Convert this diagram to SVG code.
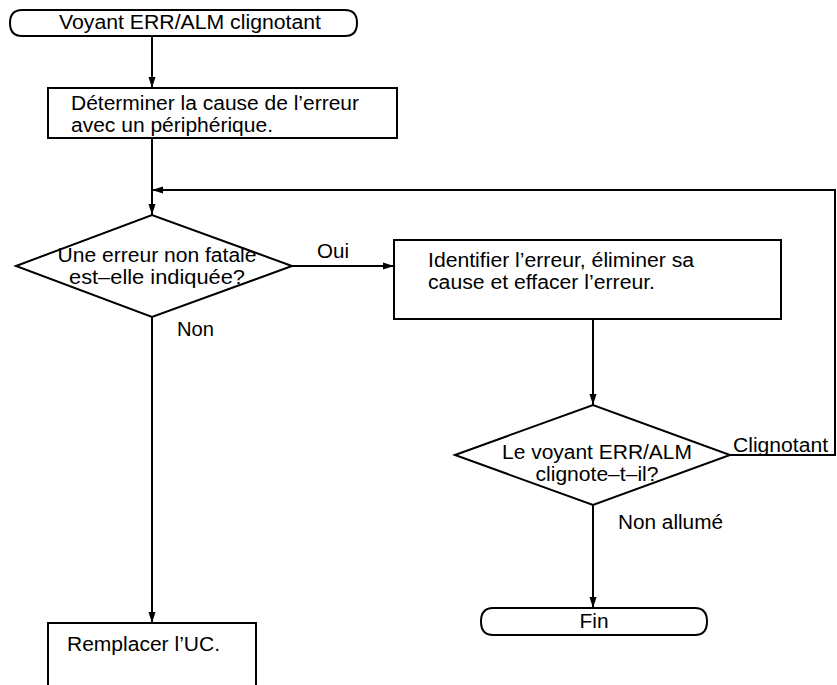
<svg xmlns="http://www.w3.org/2000/svg" width="837" height="685" viewBox="0 0 837 685">
<style>
.shape{fill:#fff;stroke:#000;stroke-width:2}
.line{fill:none;stroke:#000;stroke-width:2}
text{font-family:"Liberation Sans",Arial,Helvetica,sans-serif;font-size:19.5px;fill:#000}
.mid{text-anchor:middle}
</style>
<defs>
<marker id="arr" markerUnits="userSpaceOnUse" markerWidth="12" markerHeight="8" refX="11" refY="4" orient="auto">
<path d="M0,0.5 L11,4 L0,7.5 z" fill="#000"/>
</marker>
</defs>
<rect width="837" height="685" fill="#fff"/>
<g id="connectors">
<line class="line" x1="152" y1="36" x2="152" y2="88" marker-end="url(#arr)"/>
<line class="line" x1="152" y1="138" x2="152" y2="215" marker-end="url(#arr)"/>
<line class="line" x1="292" y1="266" x2="394" y2="266" marker-end="url(#arr)"/>
<line class="line" x1="593" y1="319" x2="593" y2="405" marker-end="url(#arr)"/>
<polyline class="line" points="730,455 835,455 835,190 152,190" marker-end="url(#arr)"/>
<line class="line" x1="593" y1="505" x2="593" y2="608" marker-end="url(#arr)"/>
<line class="line" x1="152" y1="317" x2="152" y2="623" marker-end="url(#arr)"/>
<text x="317" y="258" textLength="32" lengthAdjust="spacingAndGlyphs">Oui</text>
<text x="177" y="336" textLength="37" lengthAdjust="spacingAndGlyphs">Non</text>
<text x="733" y="452" textLength="95" lengthAdjust="spacingAndGlyphs">Clignotant</text>
<text x="618" y="529" textLength="105" lengthAdjust="spacingAndGlyphs">Non allumé</text>
</g>
<g id="start">
<path class="shape" d="M22,10 L345,10 Q357,10 357,23 Q357,36 345,36 L22,36 Q10,36 10,23 Q10,10 22,10 Z"/>
<text class="mid" x="190" y="29" textLength="262" lengthAdjust="spacingAndGlyphs">Voyant ERR/ALM clignotant</text>
</g>
<g id="determine">
<rect class="shape" x="48" y="88" width="349" height="50"/>
<text x="71" y="110" textLength="288" lengthAdjust="spacingAndGlyphs">Déterminer la cause de l’erreur</text>
<text x="71" y="132" textLength="202" lengthAdjust="spacingAndGlyphs">avec un périphérique.</text>
</g>
<g id="decision1">
<polygon class="shape" points="16,266 152,215 292,266 152,317"/>
<text class="mid" x="157" y="262" textLength="199" lengthAdjust="spacingAndGlyphs">Une erreur non fatale</text>
<text class="mid" x="157" y="284" textLength="176" lengthAdjust="spacingAndGlyphs">est–elle indiquée?</text>
</g>
<g id="identify">
<rect class="shape" x="394" y="240" width="387" height="79"/>
<text x="428" y="267" textLength="266" lengthAdjust="spacingAndGlyphs">Identifier l’erreur, éliminer sa</text>
<text x="428" y="289" textLength="227" lengthAdjust="spacingAndGlyphs">cause et effacer l’erreur.</text>
</g>
<g id="decision2">
<polygon class="shape" points="455,455 593,405 730,455 593,505"/>
<text class="mid" x="597" y="459" textLength="190" lengthAdjust="spacingAndGlyphs">Le voyant ERR/ALM</text>
<text class="mid" x="597" y="481" textLength="123" lengthAdjust="spacingAndGlyphs">clignote–t–il?</text>
</g>
<g id="end">
<path class="shape" d="M493,608 L695,608 Q707,608 707,621.5 Q707,635 695,635 L493,635 Q481,635 481,621.5 Q481,608 493,608 Z"/>
<text class="mid" x="594" y="628" textLength="29" lengthAdjust="spacingAndGlyphs">Fin</text>
</g>
<g id="replace">
<rect class="shape" x="48" y="623" width="208" height="90"/>
<text x="67" y="651" textLength="153" lengthAdjust="spacingAndGlyphs">Remplacer l’UC.</text>
</g>
</svg>
